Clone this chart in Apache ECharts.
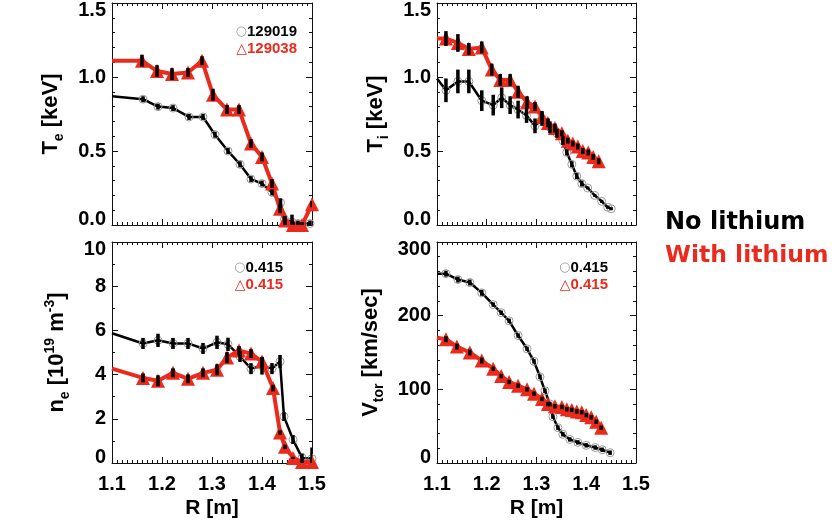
<!DOCTYPE html>
<html><head><meta charset="utf-8">
<script src="https://cdn.jsdelivr.net/npm/echarts@6/dist/echarts.min.js"></script>
<style>html,body{margin:0;padding:0;background:#fff}#c{width:835px;height:527px}</style>
</head><body><div id="c"></div>
<script>
// ---------- DATA ----------
// Electron temperature Te [keV]
const teR_no = [1.100, 1.162, 1.192, 1.222, 1.254, 1.282, 1.306, 1.332, 1.356, 1.378, 1.400, 1.420, 1.437, 1.445, 1.460, 1.472, 1.496];
const teV_no = [0.87, 0.85, 0.80, 0.79, 0.73, 0.73, 0.61, 0.50, 0.41, 0.31, 0.28, 0.22, 0.15, 0.04, 0.02, 0.01, 0.01];
const teE_no = [0, 0.02, 0.02, 0.02, 0.02, 0.02, 0.02, 0.02, 0.02, 0.02, 0.02, 0.02, 0.03, 0.02, 0.05, 0.02, 0.02];
const teR_li = [1.100, 1.160, 1.190, 1.220, 1.252, 1.280, 1.302, 1.330, 1.354, 1.378, 1.400, 1.420, 1.436, 1.446, 1.462, 1.480, 1.500];
const teV_li = [1.11, 1.11, 1.04, 1.02, 1.03, 1.11, 0.88, 0.78, 0.78, 0.55, 0.46, 0.28, 0.11, 0.03, 0.00, 0.00, 0.14];
const teE_li = [0, 0.04, 0.04, 0.04, 0.03, 0.03, 0.04, 0.03, 0.03, 0.03, 0.03, 0.03, 0.03, 0.03, 0.02, 0.02, 0.02];
// Ion temperature Ti [keV]
const tiR_no = [1.100, 1.118, 1.142, 1.164, 1.190, 1.213, 1.230, 1.247, 1.263, 1.280, 1.297, 1.311, 1.327, 1.341, 1.353, 1.361, 1.371, 1.381, 1.391, 1.403, 1.417, 1.431, 1.443, 1.450];
const tiV_no = [0.99, 0.91, 0.97, 0.97, 0.84, 0.81, 0.86, 0.81, 0.78, 0.74, 0.67, 0.72, 0.66, 0.62, 0.57, 0.49, 0.41, 0.33, 0.28, 0.25, 0.20, 0.16, 0.12, 0.11];
const tiE_no = [0, 0.08, 0.08, 0.08, 0.07, 0.07, 0.07, 0.06, 0.06, 0.05, 0.05, 0.05, 0.04, 0.03, 0.03, 0.02, 0.02, 0.02, 0.02, 0.01, 0.01, 0.01, 0.01, 0.01];
const tiR_li = [1.100, 1.118, 1.142, 1.164, 1.190, 1.210, 1.227, 1.247, 1.263, 1.281, 1.297, 1.311, 1.323, 1.337, 1.351, 1.363, 1.373, 1.383, 1.393, 1.404, 1.414, 1.425];
const tiV_li = [1.26, 1.26, 1.23, 1.19, 1.20, 1.05, 0.98, 0.98, 0.90, 0.83, 0.80, 0.73, 0.69, 0.655, 0.62, 0.57, 0.55, 0.53, 0.50, 0.49, 0.46, 0.43];
const tiE_li = [0, 0.05, 0.06, 0.04, 0.04, 0.04, 0.04, 0.04, 0.04, 0.04, 0.03, 0.03, 0.03, 0.03, 0.02, 0.02, 0.02, 0.02, 0.02, 0.02, 0.02, 0.02];
// Electron density ne [1e19 m^-3]
const neR_no = [1.100, 1.162, 1.192, 1.222, 1.252, 1.282, 1.310, 1.332, 1.356, 1.378, 1.400, 1.420, 1.436, 1.444, 1.462, 1.480, 1.500];
const neV_no = [5.87, 5.41, 5.55, 5.41, 5.41, 5.18, 5.46, 5.37, 4.82, 4.27, 4.40, 4.27, 4.59, 2.10, 1.06, 0.23, 0.20];
const neE_no = [0, 0.25, 0.3, 0.25, 0.25, 0.25, 0.3, 0.3, 0.25, 0.25, 0.4, 0.25, 0.3, 0.2, 0.2, 0.2, 0.5];
const neR_li = [1.100, 1.162, 1.192, 1.222, 1.252, 1.282, 1.310, 1.330, 1.354, 1.378, 1.400, 1.422, 1.436, 1.446, 1.462, 1.480, 1.500];
const neV_li = [4.27, 3.85, 3.72, 4.08, 3.81, 4.08, 4.22, 4.77, 5.09, 4.95, 4.59, 3.39, 1.38, 0.73, 0.23, 0.05, 0.05];
const neE_li = [0, 0.2, 0.25, 0.2, 0.2, 0.2, 0.25, 0.25, 0.2, 0.2, 0.2, 0.15, 0.1, 0.1, 0.05, 0.05, 0.05];
// Toroidal velocity Vtor [km/sec]
const vR_no = [1.100, 1.118, 1.142, 1.166, 1.190, 1.213, 1.229, 1.245, 1.263, 1.281, 1.295, 1.307, 1.317, 1.327, 1.333, 1.343, 1.353, 1.367, 1.383, 1.400, 1.418, 1.432, 1.448];
const vV_no = [257, 257, 249, 245, 231, 215, 204, 193, 173, 155, 138, 117, 98, 80, 63, 48, 39, 32, 28, 24, 21, 18, 14];
const vE_no = [0, 4, 4, 4, 4, 3, 3, 3, 3, 3, 3, 3, 3, 3, 3, 3, 3, 3, 3, 3, 3, 3, 3];
const vR_li = [1.100, 1.118, 1.140, 1.166, 1.190, 1.213, 1.229, 1.245, 1.263, 1.281, 1.295, 1.311, 1.323, 1.337, 1.351, 1.361, 1.371, 1.381, 1.391, 1.400, 1.410, 1.420, 1.430];
const vV_li = [170, 168, 158, 150, 139, 128, 118, 110, 105, 100, 94, 87, 80, 77, 76, 73, 72, 70, 69, 65, 62, 56, 48];
const vE_li = [0, 4, 4, 4, 4, 3, 3, 3, 3, 3, 3, 3, 3, 3, 3, 3, 3, 3, 3, 3, 3, 3, 3];
// Axis ticks
const xTicks = [1.1, 1.2, 1.3, 1.4, 1.5];
const teTicks = [0.0, 0.5, 1.0, 1.5];
const neTicks = [0, 2, 4, 6, 8, 10];
const vTicks = [0, 100, 200, 300];
// Labels
const panelLegends = [["129019", "129038"], null, ["0.415", "0.415"], ["0.415", "0.415"]];
const sideLabels = ["No lithium", "With lithium"];

// ---------- STYLE / LAYOUT ----------
const RED = '#ea2a1c';
const TF = 'Liberation Sans, Arial, sans-serif';
const grids = [
  {left: 112, top: 3, width: 200, height: 222},
  {left: 437, top: 3, width: 199, height: 222},
  {left: 112, top: 242, width: 200, height: 221},
  {left: 437, top: 242, width: 199, height: 221}
];
const panels = [
  {yt: teTicks, dec: 1, minor: 5, name: '{b|T}{s|e}{b| [keV]}', gap: 44,
   no: [teR_no, teV_no, teE_no], li: [teR_li, teV_li, teE_li]},
  {yt: teTicks, dec: 1, minor: 5, name: '{b|T}{s|i}{b| [keV]}', gap: 44,
   no: [tiR_no, tiV_no, tiE_no], li: [tiR_li, tiV_li, tiE_li]},
  {yt: neTicks, dec: 0, minor: 2, name: '{b|n}{s|e}{b| [10}{p|19}{b| m}{p|-3}{b|]}', gap: 38,
   no: [neR_no, neV_no, neE_no], li: [neR_li, neV_li, neE_li]},
  {yt: vTicks, dec: 0, minor: 5, name: '{b|V}{s|tor}{b| [km/sec]}', gap: 49,
   no: [vR_no, vV_no, vE_no], li: [vR_li, vV_li, vE_li]}
];
const nameRich = {
  b: {fontSize: 22, fontWeight: 'bold', fontFamily: TF, color: '#000', lineHeight: 34, verticalAlign: 'middle'},
  s: {fontSize: 14, fontWeight: 'bold', fontFamily: TF, color: '#000', lineHeight: 34, verticalAlign: 'bottom', padding: [0, 0, 2, 0]},
  p: {fontSize: 14, fontWeight: 'bold', fontFamily: TF, color: '#000', lineHeight: 34, verticalAlign: 'top', padding: [3, 0, 0, 0]}
};
const lineStyleAx = {color: '#111', width: 1};
const labelBase = {fontSize: 20, fontWeight: 'bold', fontFamily: TF, color: '#000'};

const xAxes = [], yAxes = [], series = [];
panels.forEach((p, g) => {
  const xmin = xTicks[0], xmax = xTicks[xTicks.length - 1];
  const ymin = p.yt[0], ymax = p.yt[p.yt.length - 1];
  const yint = p.yt[1] - p.yt[0];
  ['bottom', 'top'].forEach((pos, k) => {
    xAxes.push({
      gridIndex: g, type: 'value', position: pos, min: xmin, max: xmax, interval: 0.1,
      axisLine: {show: true, onZero: false, lineStyle: lineStyleAx},
      axisTick: {show: true, inside: true, length: 6, lineStyle: lineStyleAx},
      minorTick: {show: true, splitNumber: 10, length: 3, lineStyle: lineStyleAx},
      splitLine: {show: false}, minorSplitLine: {show: false},
      axisLabel: Object.assign({show: k === 0 && g >= 2, margin: 11, formatter: v => v.toFixed(1)}, labelBase),
      name: (k === 0 && g >= 2) ? 'R [m]' : '', nameLocation: 'middle', nameGap: 35,
      nameTextStyle: {fontSize: 21, fontWeight: 'bold', fontFamily: TF, color: '#000'}
    });
  });
  ['left', 'right'].forEach((pos, k) => {
    yAxes.push({
      gridIndex: g, type: 'value', position: pos, min: ymin, max: ymax, interval: yint,
      axisLine: {show: true, onZero: false, lineStyle: lineStyleAx},
      axisTick: {show: true, inside: true, length: 6, lineStyle: lineStyleAx},
      minorTick: {show: true, splitNumber: p.minor, length: 3, lineStyle: lineStyleAx},
      splitLine: {show: false}, minorSplitLine: {show: false},
      axisLabel: Object.assign({
        show: k === 0, margin: 6,
        formatter: v => {
          const s = v.toFixed(p.dec);
          if (Math.abs(v - ymax) < 1e-9) return '{hi|' + s + '}';
          if (Math.abs(v - ymin) < 1e-9) return '{lo|' + s + '}';
          return s;
        },
        rich: {
          hi: Object.assign({padding: [14, 0, 0, 0]}, labelBase),
          lo: Object.assign({padding: [0, 0, 12, 0]}, labelBase)
        }
      }, labelBase),
      name: k === 0 ? p.name : '', nameLocation: 'middle', nameRotate: 90, nameGap: p.gap,
      nameTextStyle: {rich: nameRich}
    });
  });
  const xi = 2 * g, yi = 2 * g;
  const zip = (a) => a[0].map((r, i) => [r, a[1][i]]);
  series.push({
    type: 'line', xAxisIndex: xi, yAxisIndex: yi, data: zip(p.no), clip: true, z: 2,
    symbol: v => (v[0] <= xmin + 1e-6 ? 'none' : 'circle'), symbolSize: 8,
    lineStyle: {color: '#000', width: 2.5},
    itemStyle: {color: 'rgba(0,0,0,0)', borderColor: '#9a9a9a', borderWidth: 1}
  });
  series.push({
    type: 'line', xAxisIndex: xi, yAxisIndex: yi, data: zip(p.li), clip: true, z: 3,
    symbol: v => (v[0] <= xmin + 1e-6 ? 'none' : 'triangle'), symbolSize: 14,
    lineStyle: {color: RED, width: 4},
    itemStyle: {color: RED}
  });
  [p.no, p.li].forEach(arr => {
    series.push({
      type: 'custom', xAxisIndex: xi, yAxisIndex: yi, clip: true, z: 5,
      encode: {x: 0, y: 1},
      data: arr[0].map((r, i) => [r, arr[1][i], arr[2][i]]),
      renderItem: (params, api) => {
        const x = api.value(0), y = api.value(1), e = api.value(2);
        if (!e) return null;
        const a = api.coord([x, y - e]), b = api.coord([x, y + e]);
        return {type: 'line', shape: {x1: a[0], y1: a[1], x2: b[0], y2: b[1]},
                style: {stroke: '#000', lineWidth: 3.5}};
      }
    });
  });
});

// in-panel legends and side labels (text)
const graphic = [];
const legPos = [[297, 32], null, [283, 268], [608, 268]];
panelLegends.forEach((lg, g) => {
  if (!lg) return;
  const [x, y] = legPos[g];
  graphic.push({type: 'text', x: x, y: y, style: {
    text: '{c|○}{t|' + lg[0] + '}', align: 'right', textAlign: 'right', verticalAlign: 'middle', textVerticalAlign: 'middle',
    rich: {c: {fontSize: 13, fill: '#999', color: '#999', fontFamily: 'DejaVu Sans'},
           t: {fontSize: 15, fontWeight: 'bold', fontFamily: TF, fill: '#000', color: '#000'}}}});
  graphic.push({type: 'text', x: x, y: y + 17, style: {
    text: '{c|△}{t|' + lg[1] + '}', align: 'right', textAlign: 'right', verticalAlign: 'middle', textVerticalAlign: 'middle',
    rich: {c: {fontSize: 14, fontWeight: 'bold', fill: RED, color: RED, fontFamily: 'DejaVu Sans'},
           t: {fontSize: 15, fontWeight: 'bold', fontFamily: TF, fill: RED, color: RED}}}});
});
graphic.push({type: 'text', x: 665, y: 223, style: {text: sideLabels[0], fill: '#000',
  font: 'bold 24px "DejaVu Sans"', align: 'left', verticalAlign: 'middle', textVerticalAlign: 'middle'}});
graphic.push({type: 'text', x: 665, y: 256, style: {text: sideLabels[1], fill: RED,
  font: 'bold 23.5px "DejaVu Sans"', align: 'left', verticalAlign: 'middle', textVerticalAlign: 'middle'}});

const chart = echarts.init(document.getElementById('c'), null, {renderer: 'canvas'});
chart.setOption({
  animation: false,
  backgroundColor: '#fff',
  grid: grids,
  xAxis: xAxes,
  yAxis: yAxes,
  series: series,
  graphic: graphic
});
</script></body></html>
